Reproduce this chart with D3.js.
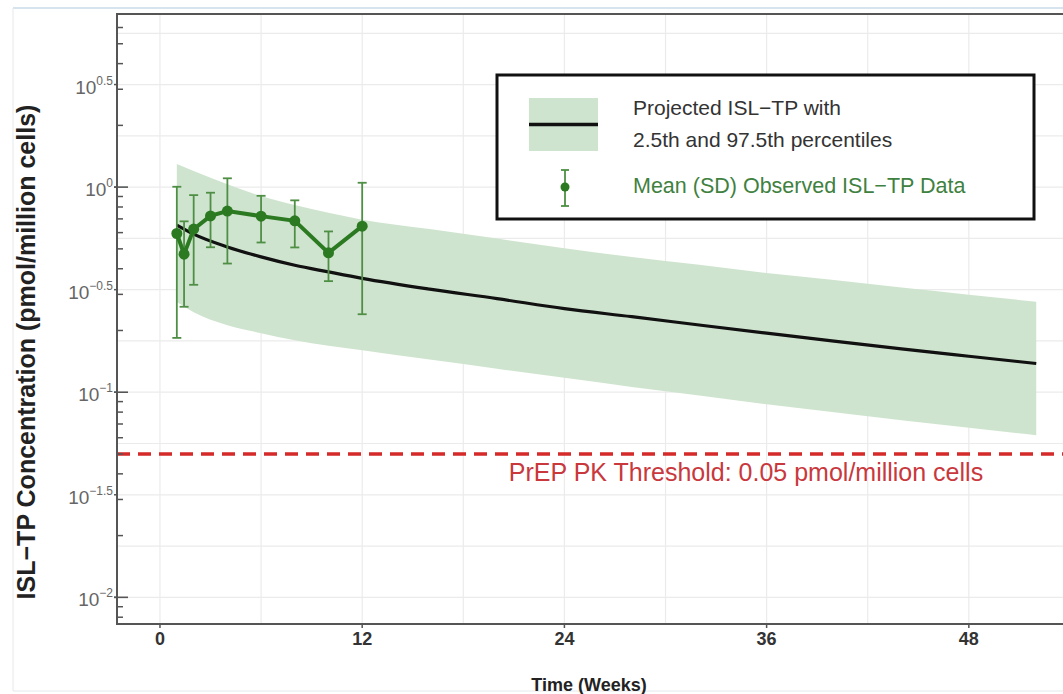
<!DOCTYPE html>
<html>
<head>
<meta charset="utf-8">
<script src="https://cdn.jsdelivr.net/npm/d3@7"></script>
<style>
  html, body { margin: 0; padding: 0; background: #ffffff; }
  svg { display: block; font-family: "Liberation Sans", Arial, Helvetica, sans-serif; }
</style>
</head>
<body>
<svg id="chart" width="1063" height="694"></svg>
<script>
// ---------- data ----------
const bandWeeks   = [1, 2, 4, 6, 8, 12, 16, 20, 24, 28, 32, 36, 40, 44, 48, 52];
const bandUpper   = [1.295, 1.197, 1.034, 0.904, 0.817, 0.694, 0.624, 0.561, 0.504, 0.456, 0.418, 0.381, 0.352, 0.324, 0.299, 0.276];
const bandLower   = [0.275, 0.2456, 0.2122, 0.194, 0.1794, 0.1603, 0.1445, 0.1303, 0.1175, 0.1061, 0.0964, 0.0874, 0.0799, 0.0730, 0.0671, 0.0617];
const medianWeeks = [1, 2, 4, 6, 8, 10, 12, 16, 20, 24, 28, 32, 36, 40, 44, 48, 52];
const medianConc  = [0.653, 0.590, 0.511, 0.457, 0.416, 0.386, 0.359, 0.318, 0.286, 0.2555, 0.2335, 0.2127, 0.194, 0.1773, 0.1627, 0.1498, 0.138];

const obsWeeks = [1, 1.43, 2, 3, 4, 6, 8, 10, 12];
const obsMean  = [0.594, 0.471, 0.624, 0.724, 0.764, 0.722, 0.685, 0.478, 0.645];
const obsSD    = [0.41, 0.21, 0.29, 0.215, 0.34, 0.185, 0.177, 0.13, 0.405];

const threshold = 0.05;
const thresholdLabel = "PrEP PK Threshold: 0.05 pmol/million cells";

const xTicks = [0, 12, 24, 36, 48];
const xGrid  = [0, 6, 12, 18, 24, 30, 36, 42, 48, 54];
const yLabelExps = ["0.5", "0", "\u22120.5", "\u22121", "\u22121.5", "\u22122"];
const yLabelVals = [0.5, 0, -0.5, -1, -1.5, -2];
const yGridExps  = [0.75, 0.5, 0.25, 0, -0.25, -0.5, -0.75, -1, -1.25, -1.5, -1.75, -2];

const legendLabels = ["Projected ISL\u2212TP with", "2.5th and 97.5th percentiles", "Mean (SD) Observed ISL\u2212TP Data"];
const xTitle = "Time (Weeks)";
const yTitle = "ISL\u2212TP Concentration (pmol/million cells)";

// ---------- layout ----------
const P = { left: 117, right: 1075, top: 14, bottom: 624 };
const bandColor = "#cfe4cf";
const darkGreen = "#2b7a22";
const barGreen  = "#4f8f45";
const red = "#d42a2a";

const svg = d3.select("#chart");

const x = d3.scaleLinear().domain([-2.55, 54.3]).range([P.left, P.right]);
const y = d3.scaleLog().domain([Math.pow(10, -2.13), Math.pow(10, 0.844)]).range([P.bottom, P.top]);

// outer frame (screenshot border)
svg.append("line").attr("x1", 13).attr("x2", 1063).attr("y1", 8).attr("y2", 8)
  .attr("stroke", "#c9dbea").attr("stroke-width", 1.5);
svg.append("line").attr("x1", 13).attr("x2", 13).attr("y1", 8).attr("y2", 691)
  .attr("stroke", "#e4e8ec").attr("stroke-width", 1);
svg.append("line").attr("x1", 13).attr("x2", 1063).attr("y1", 691).attr("y2", 691)
  .attr("stroke", "#e4e8ec").attr("stroke-width", 1);

svg.append("clipPath").attr("id", "panel")
  .append("rect").attr("x", P.left).attr("y", P.top)
  .attr("width", P.right - P.left).attr("height", P.bottom - P.top);

const g = svg.append("g").attr("clip-path", "url(#panel)");

// grid
g.selectAll("line.hg").data(yGridExps).join("line")
  .attr("x1", P.left).attr("x2", P.right)
  .attr("y1", d => y(Math.pow(10, d))).attr("y2", d => y(Math.pow(10, d)))
  .attr("stroke", "#ebebeb").attr("stroke-width", 1.2);
g.selectAll("line.vg").data(xGrid).join("line")
  .attr("x1", d => x(d)).attr("x2", d => x(d))
  .attr("y1", P.top).attr("y2", P.bottom)
  .attr("stroke", "#ebebeb").attr("stroke-width", 1.2);

// band
const bandData = bandWeeks.map((w, i) => ({ w, lo: bandLower[i], hi: bandUpper[i] }));
g.append("path").datum(bandData)
  .attr("d", d3.area().curve(d3.curveMonotoneX)
    .x(d => x(d.w)).y0(d => y(d.lo)).y1(d => y(d.hi)))
  .attr("fill", bandColor);

// median
const medData = medianWeeks.map((w, i) => ({ w, v: medianConc[i] }));
g.append("path").datum(medData)
  .attr("d", d3.line().curve(d3.curveMonotoneX).x(d => x(d.w)).y(d => y(d.v)))
  .attr("fill", "none").attr("stroke", "#111").attr("stroke-width", 3.2);

// threshold
g.append("line")
  .attr("x1", P.left).attr("x2", P.right)
  .attr("y1", y(threshold)).attr("y2", y(threshold))
  .attr("stroke", red).attr("stroke-width", 3.5).attr("stroke-dasharray", "13,8");

// observed error bars
const obs = obsWeeks.map((w, i) => ({ w, m: obsMean[i], sd: obsSD[i] }));
const eb = g.append("g").attr("stroke", barGreen).attr("stroke-width", 1.8).attr("fill", "none");
obs.forEach(d => {
  const xx = x(d.w), y1 = y(d.m + d.sd), y0 = y(d.m - d.sd);
  eb.append("line").attr("x1", xx).attr("x2", xx).attr("y1", y1).attr("y2", y0);
  eb.append("line").attr("x1", xx - 4.5).attr("x2", xx + 4.5).attr("y1", y1).attr("y2", y1);
  eb.append("line").attr("x1", xx - 4.5).attr("x2", xx + 4.5).attr("y1", y0).attr("y2", y0);
});
g.append("path").datum(obs)
  .attr("d", d3.line().x(d => x(d.w)).y(d => y(d.m)))
  .attr("fill", "none").attr("stroke", darkGreen).attr("stroke-width", 4);
g.selectAll("circle.obs").data(obs).join("circle")
  .attr("cx", d => x(d.w)).attr("cy", d => y(d.m)).attr("r", 5.5)
  .attr("fill", darkGreen);

// threshold label
svg.append("text").attr("x", 746).attr("y", 481).attr("text-anchor", "middle")
  .attr("font-size", 25).attr("fill", "#c8383d").text(thresholdLabel);

// legend
const L = svg.append("g");
L.append("rect").attr("x", 497).attr("y", 75).attr("width", 537).attr("height", 144)
  .attr("fill", "#fff").attr("stroke", "#111").attr("stroke-width", 3);
L.append("rect").attr("x", 529).attr("y", 98).attr("width", 69).attr("height", 53).attr("fill", bandColor);
L.append("line").attr("x1", 529).attr("x2", 598).attr("y1", 124.5).attr("y2", 124.5)
  .attr("stroke", "#111").attr("stroke-width", 3.5);
L.append("text").attr("x", 633).attr("y", 115).attr("font-size", 21).attr("fill", "#333").text(legendLabels[0]);
L.append("text").attr("x", 633).attr("y", 147).attr("font-size", 21).attr("fill", "#333").text(legendLabels[1]);
L.append("text").attr("x", 633).attr("y", 193).attr("font-size", 21.5).attr("fill", "#3f8140").text(legendLabels[2]);
L.append("line").attr("x1", 565).attr("x2", 565).attr("y1", 170).attr("y2", 206).attr("stroke", barGreen).attr("stroke-width", 1.8);
L.append("line").attr("x1", 561).attr("x2", 569).attr("y1", 170).attr("y2", 170).attr("stroke", barGreen).attr("stroke-width", 1.8);
L.append("line").attr("x1", 561).attr("x2", 569).attr("y1", 206).attr("y2", 206).attr("stroke", barGreen).attr("stroke-width", 1.8);
L.append("circle").attr("cx", 565).attr("cy", 187).attr("r", 4.5).attr("fill", darkGreen);

// y axis ticks (log minor/major, inward)
const axisColor = "#555";
const minorVals = [];
for (let e = -3; e <= 0; e++) for (let k = 2; k <= 9; k++) {
  const v = k * Math.pow(10, e);
  if (v >= y.domain()[0] && v <= y.domain()[1]) minorVals.push(v);
}
svg.selectAll("line.ymin").data(minorVals).join("line")
  .attr("x1", P.left).attr("x2", P.left + 6)
  .attr("y1", d => y(d)).attr("y2", d => y(d))
  .attr("stroke", axisColor).attr("stroke-width", 1.5);
svg.selectAll("line.ymaj").data([1, 0.1, 0.01]).join("line")
  .attr("x1", P.left - 3).attr("x2", P.left + 11)
  .attr("y1", d => y(d)).attr("y2", d => y(d))
  .attr("stroke", axisColor).attr("stroke-width", 1.6);
svg.selectAll("line.yhalf").data(yLabelVals).join("line")
  .attr("x1", P.left - 3).attr("x2", P.left)
  .attr("y1", d => y(Math.pow(10, d))).attr("y2", d => y(Math.pow(10, d)))
  .attr("stroke", axisColor).attr("stroke-width", 1.5);

// y tick labels 10^k
yLabelVals.forEach((v, i) => {
  const t = svg.append("text").attr("x", P.left - 4).attr("y", y(Math.pow(10, v)) + 9)
    .attr("text-anchor", "end").attr("fill", "#666").attr("font-size", 19);
  t.append("tspan").text("10");
  t.append("tspan").attr("font-size", 12).attr("dy", -9).text(yLabelExps[i]);
});

// x ticks
svg.selectAll("line.xt").data(xTicks).join("line")
  .attr("x1", d => x(d)).attr("x2", d => x(d))
  .attr("y1", P.bottom).attr("y2", P.bottom + 4)
  .attr("stroke", axisColor).attr("stroke-width", 1.5);
svg.selectAll("text.xt").data(xTicks).join("text")
  .attr("x", d => x(d)).attr("y", 645).attr("text-anchor", "middle")
  .attr("font-size", 18).attr("font-weight", "bold").attr("fill", "#333")
  .text(d => d);

// panel border
svg.append("path")
  .attr("d", `M${P.right},${P.top} L${P.left},${P.top} L${P.left},${P.bottom} L${P.right},${P.bottom}`)
  .attr("fill", "none").attr("stroke", "#555").attr("stroke-width", 2);

// titles
svg.append("text").attr("x", 589).attr("y", 691).attr("text-anchor", "middle")
  .attr("font-size", 18).attr("font-weight", "bold").attr("fill", "#222").text(xTitle);
svg.append("text").attr("transform", "translate(35,352) rotate(-90)").attr("text-anchor", "middle")
  .attr("font-size", 25).attr("font-weight", "bold").attr("fill", "#222").text(yTitle);
</script>
</body>
</html>
